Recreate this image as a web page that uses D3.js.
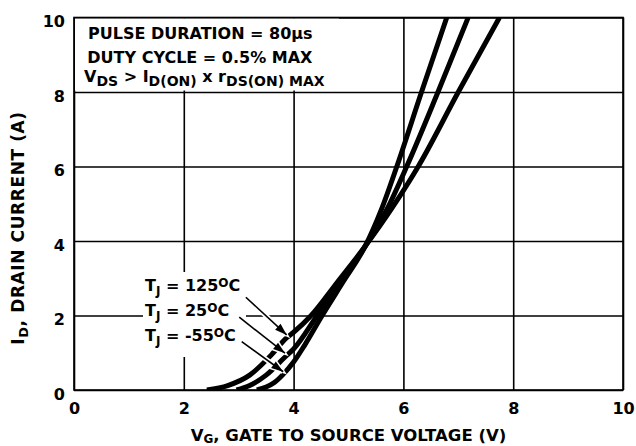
<!DOCTYPE html>
<html>
<head>
<meta charset="utf-8">
<script src="https://cdn.jsdelivr.net/npm/d3@7"></script>
<style>
  html, body { margin: 0; padding: 0; background: #fff; }
  svg { display: block; font-family: "DejaVu Sans", sans-serif; font-weight: bold; }
</style>
</head>
<body>
<svg id="chart" width="636" height="446"></svg>
<script>
// ---- data ----
const xTicks = [0, 2, 4, 6, 8, 10];
const yTicks = [0, 2, 4, 6, 8, 10];

const vgs125 = [2.42, 2.8, 3.2, 3.6, 3.87, 4.0, 4.32, 4.8, 5.3, 5.8, 6.27, 7.0, 7.75];
const id125  = [0.0, 0.12, 0.4, 0.95, 1.40, 1.55, 2.0, 2.9, 3.85, 4.9, 6.0, 8.0, 10.0];

const vgs25 = [2.96, 3.2, 3.5, 3.84, 4.0, 4.43, 4.9, 5.3, 5.7, 6.06, 6.63, 7.18];
const id25  = [0.0, 0.12, 0.4, 0.88, 1.1, 2.0, 3.0, 3.85, 4.85, 6.0, 8.0, 10.0];

const vgsM55 = [3.33, 3.5, 3.65, 3.81, 4.0, 4.2, 4.52, 4.9, 5.3, 5.6, 5.88, 6.33, 6.79];
const idM55  = [0.0, 0.08, 0.2, 0.42, 0.75, 1.2, 2.0, 2.9, 3.85, 4.85, 6.0, 8.0, 10.0];

// temperature labels and their arrows (data coordinates: start -> tip)
const tempLabels = ["125", "25", "-55"];
const arrowFromX = [3.13, 3.01, 3.055];
const arrowFromY = [2.49, 1.954, 1.298];
const arrowToX   = [3.874, 3.843, 3.81];
const arrowToY   = [1.478, 0.987, 0.49];

// ---- layout ----
const L = 74, R = 623, T = 17.5, B = 390;
const svg = d3.select("#chart");
const x = d3.scaleLinear().domain([0, 10]).range([L, R]);
const y = d3.scaleLinear().domain([0, 10]).range([B, T]);

// grid via axes
const gridX = svg.append("g").attr("transform", `translate(0,${B})`)
  .call(d3.axisBottom(x).tickValues(xTicks).tickSize(-(B - T)).tickFormat(""));
const gridY = svg.append("g").attr("transform", `translate(${L},0)`)
  .call(d3.axisLeft(y).tickValues(yTicks).tickSize(-(R - L)).tickFormat(""));
[gridX, gridY].forEach(g => {
  g.select(".domain").remove();
  g.selectAll("line").attr("stroke", "#000").attr("stroke-width", 1.6);
});

// tick labels via axes
const axX = svg.append("g").attr("transform", `translate(0,${B})`)
  .call(d3.axisBottom(x).tickValues(xTicks).tickSize(0).tickPadding(0).tickFormat(d3.format("d")));
axX.select(".domain").remove();
axX.selectAll("text").attr("font-family", "DejaVu Sans").attr("font-weight", "bold")
  .attr("font-size", 16).attr("fill", "#000").attr("y", 24).attr("dy", null);

const axY = svg.append("g").attr("transform", `translate(${L},0)`)
  .call(d3.axisLeft(y).tickValues(yTicks).tickSize(0).tickPadding(9).tickFormat(d3.format("d")));
axY.select(".domain").remove();
axY.selectAll("text").attr("font-family", "DejaVu Sans").attr("font-weight", "bold")
  .attr("font-size", 16).attr("fill", "#000").attr("dy", null).attr("y", 9);

// white boxes behind annotation text
svg.append("rect").attr("x", L + 1).attr("y", T + 1).attr("width", 264).attr("height", 72).attr("fill", "#fff");
svg.append("rect").attr("x", 143).attr("y", 272).attr("width", 103).attr("height", 85).attr("fill", "#fff");

// curves
svg.append("clipPath").attr("id", "plotclip").append("rect")
  .attr("x", L).attr("y", T).attr("width", R - L).attr("height", B - T);
const line = d3.line().x(d => x(d[0])).y(d => y(d[1])).curve(d3.curveMonotoneX);
const series = [d3.zip(vgs125, id125), d3.zip(vgs25, id25), d3.zip(vgsM55, idM55)];
svg.append("g").attr("clip-path", "url(#plotclip)")
  .selectAll("path").data(series).join("path")
  .attr("d", line).attr("fill", "none").attr("stroke", "#000").attr("stroke-width", 5);

// arrows
function arrowHead(i) {
  const x0 = x(arrowFromX[i]), y0 = y(arrowFromY[i]);
  const x1 = x(arrowToX[i]), y1 = y(arrowToY[i]);
  const a = Math.atan2(y1 - y0, x1 - x0);
  const len = 12, hw = 4;
  const bx = x1 - len * Math.cos(a), by = y1 - len * Math.sin(a);
  return [[x1, y1], [bx + hw * Math.sin(a), by - hw * Math.cos(a)], [bx - hw * Math.sin(a), by + hw * Math.cos(a)]];
}
const idx = d3.range(tempLabels.length);
const halo = svg.append("g");
halo.selectAll("line").data(idx).join("line")
  .attr("x1", i => x(arrowFromX[i])).attr("y1", i => y(arrowFromY[i]))
  .attr("x2", i => x(arrowToX[i])).attr("y2", i => y(arrowToY[i]))
  .attr("stroke", "#fff").attr("stroke-width", 5);
halo.selectAll("polygon").data(idx).join("polygon")
  .attr("points", i => arrowHead(i).map(p => p.join(",")).join(" "))
  .attr("fill", "#fff").attr("stroke", "#fff").attr("stroke-width", 3);
const arr = svg.append("g");
arr.selectAll("line").data(idx).join("line")
  .attr("x1", i => x(arrowFromX[i])).attr("y1", i => y(arrowFromY[i]))
  .attr("x2", i => x(arrowToX[i])).attr("y2", i => y(arrowToY[i]))
  .attr("stroke", "#000").attr("stroke-width", 1.6);
arr.selectAll("polygon").data(idx).join("polygon")
  .attr("points", i => arrowHead(i).map(p => p.join(",")).join(" "))
  .attr("fill", "#000");

// temperature labels
const tl = svg.append("g").attr("font-size", 16).attr("fill", "#000");
idx.forEach(i => {
  const t = tl.append("text").attr("x", 145).attr("y", 290.7 + 25 * i);
  t.append("tspan").text("T");
  t.append("tspan").attr("font-size", 12).attr("dy", 4).text("J");
  t.append("tspan").attr("dy", -4).text(" = " + tempLabels[i]);
  t.append("tspan").attr("font-size", 12).attr("dy", -4).text("O");
  t.append("tspan").attr("dy", 4).text("C");
});

// conditions box text
const cond = svg.append("g").attr("font-size", 16).attr("fill", "#000");
cond.append("text").attr("x", 88).attr("y", 39.3).text("PULSE DURATION = 80\u03BCs");
cond.append("text").attr("x", 87.3).attr("y", 63.3).text("DUTY CYCLE = 0.5% MAX");
const c3 = cond.append("text").attr("x", 84).attr("y", 81.7);
c3.append("tspan").text("V");
c3.append("tspan").attr("font-size", 14).attr("dy", 4.3).text("DS");
c3.append("tspan").attr("dy", -4.3).text(" > I");
c3.append("tspan").attr("font-size", 14).attr("dy", 4.3).text("D(ON)");
c3.append("tspan").attr("dy", -4.3).text(" x r");
c3.append("tspan").attr("font-size", 14).attr("dy", 4.3).text("DS(ON) MAX");

// axis titles
const xt = svg.append("text").attr("x", (L + R) / 2).attr("y", 440.5).attr("text-anchor", "middle")
  .attr("font-size", 16.5).attr("fill", "#000");
xt.append("tspan").text("V");
xt.append("tspan").attr("font-size", 12).attr("dy", 2.5).text("G");
xt.append("tspan").attr("dy", -2.5).text(", GATE TO SOURCE VOLTAGE (V)");

const yt = svg.append("text").attr("transform", "translate(24,228) rotate(-90)")
  .attr("text-anchor", "middle").attr("font-size", 17).attr("letter-spacing", 0.6).attr("fill", "#000");
yt.append("tspan").text("I");
yt.append("tspan").attr("font-size", 13).attr("dy", 4).text("D");
yt.append("tspan").attr("dy", -4).text(", DRAIN CURRENT (A)");

// frame
svg.append("rect").attr("x", L).attr("y", T).attr("width", R - L).attr("height", B - T)
  .attr("fill", "none").attr("stroke", "#000").attr("stroke-width", 1.6);
</script>
</body>
</html>
